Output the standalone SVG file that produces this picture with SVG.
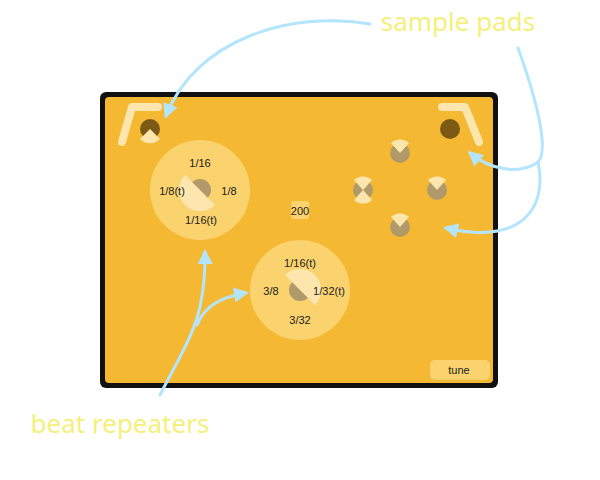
<svg xmlns="http://www.w3.org/2000/svg" width="600" height="480" viewBox="0 0 600 480">
<defs>
<style>
.t{font-family:"Liberation Sans",Arial,sans-serif;font-size:11px;fill:#222;text-anchor:middle}
.lbl{font-family:"Noto Sans","Liberation Sans",sans-serif;font-size:26px;fill:#F5F07A;text-anchor:middle}
.c{fill:none;stroke:#B3E5FC;stroke-width:3;stroke-linecap:round}
.dk{fill:#7A5A14}.kn{fill:#B09A6A}.lt{fill:#FDE6AE}.big{fill:#FAD36E}
.boom{fill:none;stroke:#FDE6AE;stroke-width:8;stroke-linecap:round;stroke-linejoin:round}
</style>
<marker id="ah" viewBox="0 0 10 10" refX="8" refY="5" markerWidth="5" markerHeight="5" orient="auto" markerUnits="strokeWidth"><path d="M0,0 L10,5 L0,10 z" fill="#B3E5FC"/></marker>
</defs>
<rect x="100" y="92" width="398" height="296" rx="6" fill="#111"/>
<rect x="105" y="97" width="388" height="286" rx="4" fill="#F5B833"/>
<g id="pad-left">
<path class="boom" d="M122,142 L132,107 L158,107"/>
<circle class="dk" cx="150" cy="129" r="10"/>
<path class="lt" d="M150,129 L140,139 A14,14 0 0 0 160,139 z"/>
</g>
<g id="pad-right">
<path class="boom" d="M442,107 L465,107 L479,142"/>
<circle class="dk" cx="450" cy="129" r="10"/>
</g>
<g id="knob-top"><circle class="kn" cx="400" cy="153" r="10"/><path class="lt" d="M400,153 L391,143 A13,13 0 0 1 409,143 z"/></g>
<g id="knob-left"><circle class="kn" cx="363" cy="190" r="10"/><path class="lt" d="M363,190 L354,180 A13,13 0 0 1 372,180 z"/><path class="lt" d="M363,190 L354,200 A13,13 0 0 0 372,200 z"/></g>
<g id="knob-right"><circle class="kn" cx="437" cy="190" r="10"/><path class="lt" d="M437,190 L428,180 A13,13 0 0 1 446,180 z"/></g>
<g id="knob-bottom"><circle class="kn" cx="400" cy="227" r="10"/><path class="lt" d="M400,227 L391,217 A13,13 0 0 1 409,217 z"/></g>
<g id="repeater1">
<circle class="big" cx="200" cy="190" r="50"/>
<circle class="kn" cx="200" cy="190" r="11"/>
<path class="lt" d="M185,175 L215,205 A21,21 0 0 1 185,175 z"/>
<text class="t" x="200" y="167">1/16</text>
<text class="t" x="172" y="195">1/8(t)</text>
<text class="t" x="229" y="195">1/8</text>
<text class="t" x="201" y="224">1/16(t)</text>
</g>
<g id="repeater2">
<circle class="big" cx="300" cy="290" r="50"/>
<circle class="kn" cx="300" cy="290" r="11"/>
<path class="lt" d="M285,275 L315,305 A21,21 0 0 0 285,275 z"/>
<text class="t" x="300" y="267">1/16(t)</text>
<text class="t" x="271" y="295">3/8</text>
<text class="t" x="329" y="295">1/32(t)</text>
<text class="t" x="300" y="324">3/32</text>
</g>
<g id="tempo"><rect x="291" y="201" width="18" height="18" rx="3" class="big"/><text class="t" x="300" y="215">200</text></g>
<g id="tune"><rect x="430" y="360" width="60" height="20" rx="5" class="big"/><text class="t" x="459" y="374">tune</text></g>
<g id="connectors">
<path class="c" d="M370,24 C290,10 195,40 166,116" marker-end="url(#ah)"/>
<path class="c" d="M518,48 C535,95 550,150 538,162 C520,175 490,170 470,153" marker-end="url(#ah)"/>
<path class="c" d="M538,162 C548,210 520,245 446,228" marker-end="url(#ah)"/>
<path class="c" d="M160,395 C188,340 206,320 205,252" marker-end="url(#ah)"/>
<path class="c" d="M197,325 C205,305 222,297 246,293" marker-end="url(#ah)"/>
</g>
<text class="lbl" x="458" y="31">sample pads</text>
<text class="lbl" x="120" y="433">beat repeaters</text>
</svg>
